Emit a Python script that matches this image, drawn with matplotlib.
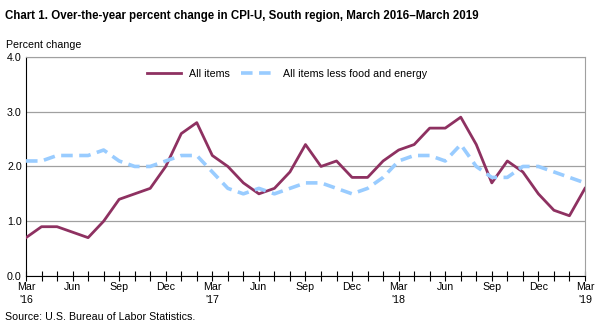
import matplotlib
matplotlib.use("Agg")
import matplotlib.pyplot as plt

plt.rcParams["font.family"] = ["Liberation Sans", "DejaVu Sans"]

# monthly, March 2016 - March 2019
all_items = [0.7, 0.9, 0.9, 0.8, 0.7, 1.0, 1.4, 1.5, 1.6, 2.0, 2.6, 2.8,
             2.2, 2.0, 1.7, 1.5, 1.6, 1.9, 2.4, 2.0, 2.1, 1.8, 1.8, 2.1,
             2.3, 2.4, 2.7, 2.7, 2.9, 2.4, 1.7, 2.1, 1.9, 1.5, 1.2, 1.1,
             1.6]
core = [2.1, 2.1, 2.2, 2.2, 2.2, 2.3, 2.1, 2.0, 2.0, 2.1, 2.2, 2.2,
        1.9, 1.6, 1.5, 1.6, 1.5, 1.6, 1.7, 1.7, 1.6, 1.5, 1.6, 1.8,
        2.1, 2.2, 2.2, 2.1, 2.4, 2.0, 1.8, 1.8, 2.0, 2.0, 1.9, 1.8,
        1.7]
tick_labels = ["Mar\n'16", "Jun", "Sep", "Dec", "Mar\n'17", "Jun", "Sep", "Dec",
               "Mar\n'18", "Jun", "Sep", "Dec", "Mar\n'19"]
y_ticks = [0.0, 1.0, 2.0, 3.0, 4.0]

x = list(range(len(all_items)))

fig = plt.figure(figsize=(6.03, 3.26), dpi=100)
ax = fig.add_axes([0.0431, 0.1534, 0.927, 0.672])

ax.plot(x, all_items, color="#8e3161", lw=2, label="All items", zorder=3)
ax.plot(x, core, color="#99ccff", lw=2.6, dashes=(3.2, 1.8),
        label="All items less food and energy", zorder=3)

ax.set_xlim(0, len(x) - 1)
ax.set_ylim(0, 4)
ax.set_yticks(y_ticks)
ax.set_yticklabels([f"{v:.1f}" for v in y_ticks], fontsize=7.7)
ax.tick_params(axis="y", length=0, pad=3)
ax.set_xticks(x[::3])
ax.set_xticklabels(tick_labels, fontsize=7.7, linespacing=1.3)
ax.set_xticks(x, minor=True)
ax.tick_params(axis="x", which="both", direction="inout", length=7, width=0.8,
               pad=1, color="black")

ax.grid(axis="y", color="#a0a0a0", lw=0.9)
ax.set_axisbelow(True)
for s in ("top", "right"):
    ax.spines[s].set_color("#a0a0a0")
for s in ("left", "bottom"):
    ax.spines[s].set_color("black")

ax.legend(loc="upper left", bbox_to_anchor=(0.209, 0.965), borderaxespad=0,
          ncol=2, frameon=False, fontsize=7.7, handlelength=3.2,
          columnspacing=1.1, handletextpad=0.7)

fig.text(0.008, 0.952, "Chart 1. Over-the-year percent change in CPI-U, South region, March 2016\u2013March 2019",
         fontsize=8.3, fontweight="bold", va="center")
fig.text(0.01, 0.862, "Percent change", fontsize=7.7, va="center")
fig.text(0.008, 0.027, "Source: U.S. Bureau of Labor Statistics.", fontsize=7.7, va="center")

fig.savefig("out.png", dpi=100)
